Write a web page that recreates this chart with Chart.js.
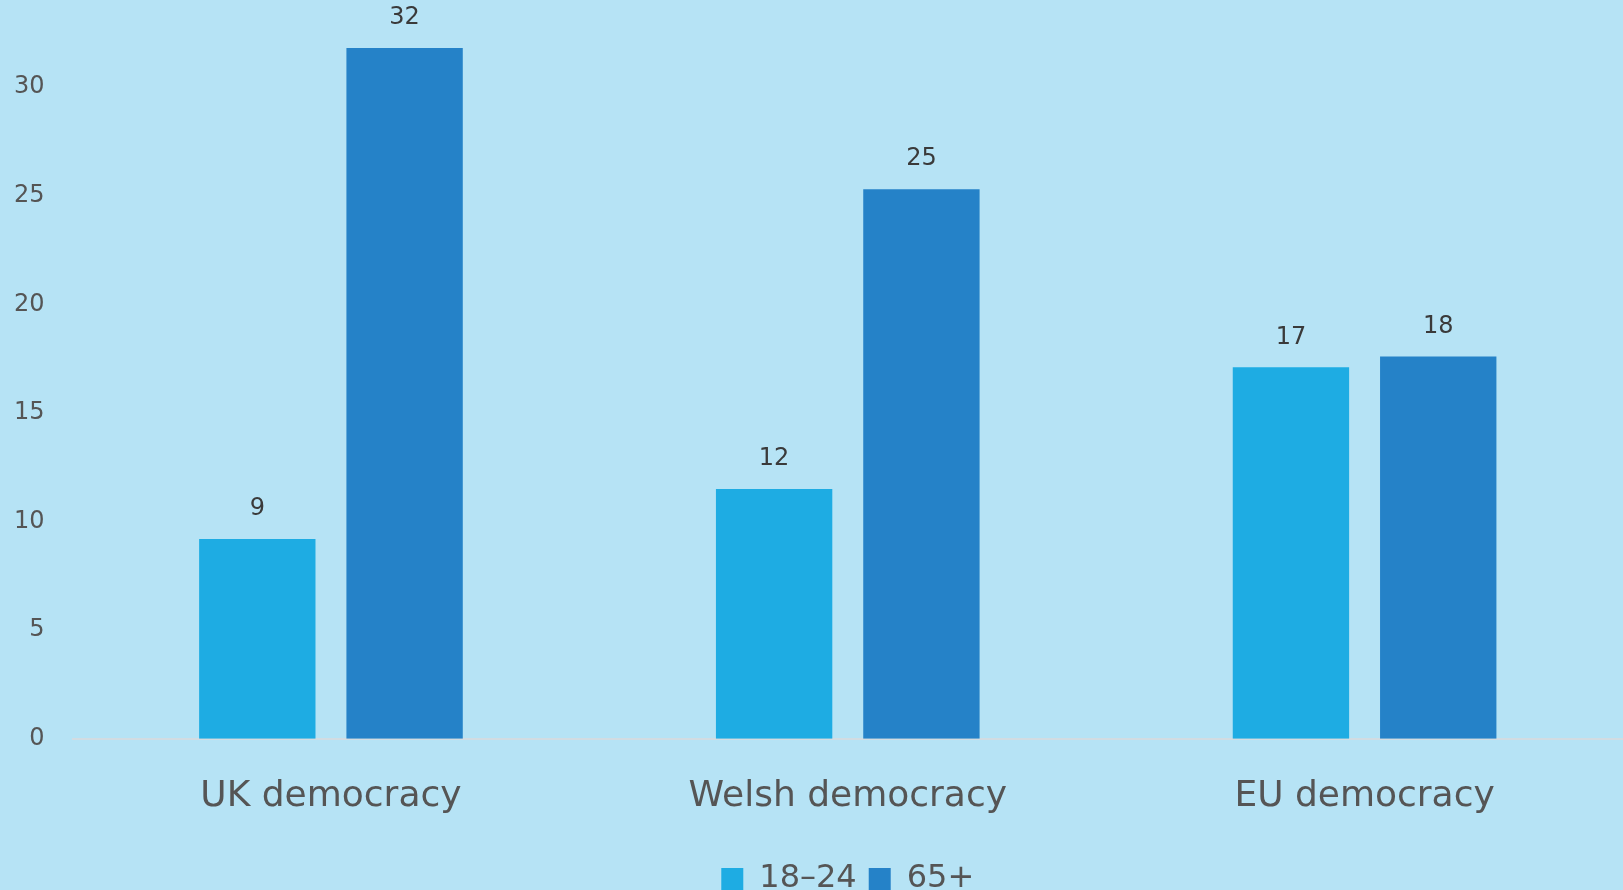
<!DOCTYPE html>
<html>
<head>
<meta charset="utf-8">
<title>Democracy by age group</title>
<script src="https://cdn.jsdelivr.net/npm/chart.js@4/dist/chart.umd.min.js"></script>
<style>
  html, body { margin: 0; padding: 0; background: #b6e3f5; overflow: hidden; }
  .frame { width: 1623px; height: 890px; overflow: hidden; }
  .wrap { width: 1623px; height: 905px; position: relative; }
</style>
</head>
<body>
<div class="frame">
  <div class="wrap"><canvas id="chart"></canvas></div>
</div>
<script>
const categories = ['UK democracy', 'Welsh democracy', 'EU democracy'];
const seriesNames = ['18\u201324', '65+'];
const young = [9.2, 11.5, 17.1];
const old = [31.8, 25.3, 17.6];
const yTicks = [0, 5, 10, 15, 20, 25, 30];

const FONT = "'DejaVu Sans', Verdana, sans-serif";

// small inline plugin: writes the rounded value above each bar
const valueLabels = {
    id: 'valueLabels',
    afterDatasetsDraw(chart) {
        const ctx = chart.ctx;
        ctx.save();
        ctx.font = '24px ' + FONT;
        ctx.fillStyle = '#3a3a3a';
        ctx.textAlign = 'center';
        ctx.textBaseline = 'bottom';
        chart.data.datasets.forEach((ds, i) => {
            chart.getDatasetMeta(i).data.forEach((bar, j) => {
                ctx.fillText(String(Math.round(ds.data[j])), bar.x, bar.y - 18);
            });
        });
        ctx.restore();
    }
};

new Chart(document.getElementById('chart'), {
    type: 'bar',
    data: {
        labels: categories,
        datasets: [{
            label: seriesNames[0],
            data: young,
            backgroundColor: '#1eace3',
            borderWidth: 0
        }, {
            label: seriesNames[1],
            data: old,
            backgroundColor: '#2582c8',
            borderWidth: 0
        }]
    },
    options: {
        responsive: true,
        maintainAspectRatio: false,
        animation: false,
        layout: { padding: { top: 22, left: 14, right: 0, bottom: 0 } },
        datasets: {
            bar: { categoryPercentage: 0.57, barPercentage: 0.79 }
        },
        plugins: {
            tooltip: { enabled: false },
            legend: {
                position: 'bottom',
                fullSize: false,
                labels: {
                    font: { family: FONT, size: 32 },
                    color: '#555555',
                    boxWidth: 22,
                    boxHeight: 22,
                    padding: 12
                }
            }
        },
        scales: {
            x: {
                // tick marks are hidden, tickLength only spaces the labels off the axis
                grid: { display: false, drawTicks: true, tickLength: 36 },
                border: { display: true, color: '#d2dce2', width: 2 },
                ticks: {
                    font: { family: FONT, size: 36 },
                    color: '#555555',
                    padding: 0
                },
                // leave room between the category names and the legend
                afterFit(scale) { scale.height += 33; }
            },
            y: {
                min: 0,
                max: 33,
                grid: { display: false, drawTicks: true, tickLength: 28 },
                border: { display: false },
                afterBuildTicks(scale) {
                    scale.ticks = yTicks.map(v => ({ value: v }));
                },
                ticks: {
                    font: { family: FONT, size: 24 },
                    color: '#555555',
                    padding: 0
                }
            }
        }
    },
    plugins: [valueLabels]
});
</script>
</body>
</html>
